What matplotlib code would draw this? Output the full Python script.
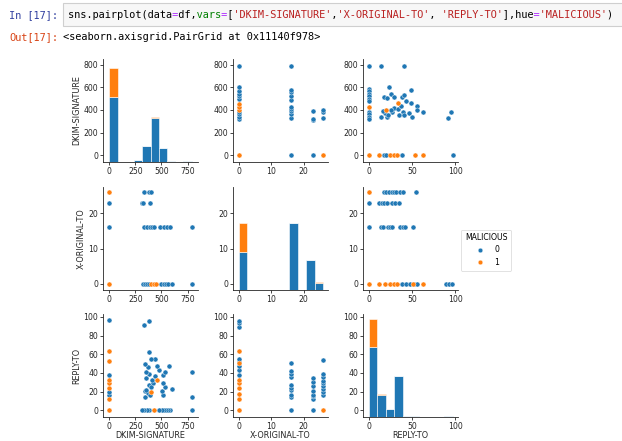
import numpy as np
import matplotlib
matplotlib.use("Agg")
import matplotlib.pyplot as plt
from matplotlib.lines import Line2D
from matplotlib.patches import Rectangle

plt.rcParams["font.family"] = ["DejaVu Sans"]

W, H = 622, 441
BLUE = "#1f77b4"
ORANGE = "#ff7f0e"
INK = "#262626"

VARS = ["DKIM-SIGNATURE", "X-ORIGINAL-TO", "REPLY-TO"]
HUE = "MALICIOUS"
HUE_LEVELS = ["0", "1"]

# value ranges of each column (hist bins span min..max, 10 bins)
dkim_range = (0, 790)
xorig_range = (0, 26)
reply_range = (0, 97)

# diagonal histogram counts (stacked: class 0 then class 1)
dkim_hist_0 = [325, 0, 0, 10, 80, 220, 70, 3, 0, 3]
dkim_hist_1 = [145, 0, 0, 0, 0, 5, 0, 0, 0, 0]
xorig_hist_0 = [190, 0, 0, 0, 0, 0, 335, 0, 150, 35]
xorig_hist_1 = [145, 0, 0, 0, 0, 0, 0, 0, 0, 5]
reply_hist_0 = [350, 111, 40, 203, 5, 3, 0, 0, 0, 3]
reply_hist_1 = [140, 4, 0, 2, 0, 2, 2, 0, 0, 0]

# (X-ORIGINAL-TO, DKIM-SIGNATURE)
xorig_dkim_0 = [(0, 320), (0, 340), (0, 360), (0, 385), (0, 500), (0, 525), (0, 545),
                (0, 567), (0, 605), (0, 790),
                (16, 0), (16, 330), (16, 365), (16, 390), (16, 410), (16, 430), (16, 490),
                (16, 525), (16, 555), (16, 580), (16, 790),
                (23, 0), (23, 310), (23, 320), (23, 390),
                (26, 330), (26, 380), (26, 400)]
xorig_dkim_1 = [(0, 0), (0, 400), (0, 425), (0, 450), (26, 0)]

# (REPLY-TO, DKIM-SIGNATURE)
reply_dkim_0 = [(0, 790), (14, 790), (41, 790),
                (0, 586), (0, 566), (0, 543), (0, 522), (0, 501), (0, 478), (0, 384),
                (0, 361), (0, 337), (0, 317),
                (23, 604), (17, 516), (21, 507), (25, 537), (29, 516), (38, 513), (41, 531),
                (48, 572), (43, 478), (48, 457), (55, 434), (55, 399),
                (14, 340), (21, 340), (27, 384), (29, 419), (33, 410), (37, 434), (39, 384),
                (35, 355), (41, 355), (46, 375), (50, 340), (62, 384), (91, 331), (95, 384),
                (19, 375), (25, 399), (22, 355), (16, 390),
                (17, 0), (20, 0), (38, 0), (97, 0)]
reply_dkim_1 = [(0, 428), (20, 399), (33, 457), (0, 0), (12, 0), (24, 0), (29, 0),
                (32, 0), (53, 0), (63, 0)]

# (X-ORIGINAL-TO, REPLY-TO)
xorig_reply_0 = [(0, 38), (0, 43), (0, 47), (0, 52), (0, 55), (0, 89), (0, 93), (0, 96),
                 (16, 0), (16, 14), (16, 16), (16, 22), (16, 24), (16, 27), (16, 36),
                 (16, 39), (16, 42), (16, 51),
                 (23, 0), (23, 12), (23, 15), (23, 17), (23, 21), (23, 26), (23, 30), (23, 35),
                 (26, 17), (26, 20), (26, 23), (26, 26), (26, 29), (26, 31), (26, 36),
                 (26, 39), (26, 54)]
xorig_reply_1 = [(0, 0), (0, 12), (0, 18), (0, 24), (0, 29), (0, 32), (0, 51), (0, 63),
                 (26, 0)]

dkim_ticks = [0, 250, 500, 750]
dkim_yticks = [0, 200, 400, 600, 800]
xorig_ticks = [0, 10, 20]
reply_ticks = [0, 50, 100]
reply_yticks = [0, 20, 40, 60, 80, 100]

code_line = "sns.pairplot(data=df,vars=['DKIM-SIGNATURE','X-ORIGINAL-TO', 'REPLY-TO'],hue='MALICIOUS')"
out_line = "<seaborn.axisgrid.PairGrid at 0x11140f978>"

LIMS = {0: (-60, 850), 1: (-1.8, 27.5), 2: (-7, 103)}
XT = {0: dkim_ticks, 1: xorig_ticks, 2: reply_ticks}
YT = {0: dkim_yticks, 1: xorig_ticks, 2: reply_yticks}
RANGES = {0: dkim_range, 1: xorig_range, 2: reply_range}
HISTS = {0: (dkim_hist_0, dkim_hist_1), 1: (xorig_hist_0, xorig_hist_1),
         2: (reply_hist_0, reply_hist_1)}
# pairs keyed by (x var, y var) -> (points class 0, points class 1), stored as (x, y)
PAIRS = {(1, 0): (xorig_dkim_0, xorig_dkim_1), (2, 0): (reply_dkim_0, reply_dkim_1),
         (1, 2): (xorig_reply_0, xorig_reply_1)}

FS = 5.6
fig = plt.figure(figsize=(W / 100, H / 100), dpi=100)


def px_axes(x, y, w, h):
    return fig.add_axes([x / W, 1 - (y + h) / H, w / W, h / H])


def style(ax):
    for s in ("top", "right"):
        ax.spines[s].set_visible(False)
    for s in ("left", "bottom"):
        ax.spines[s].set_linewidth(0.6)
        ax.spines[s].set_color(INK)
    ax.tick_params(labelsize=FS, length=2.2, width=0.6, pad=1.2, colors=INK)


col_x = [103, 233, 363]
row_y = [59, 187, 314]
AW, AH = 95, 103
hist_top = max(a + b for c in HISTS.values() for a, b in zip(*c)) * 1.05

for r in range(3):
    for c in range(3):
        ax = px_axes(col_x[c], row_y[r], AW, AH)
        style(ax)
        ax.set_xlim(LIMS[c])
        ax.set_ylim(LIMS[r])
        ax.set_xticks(XT[c])
        ax.set_yticks(YT[r])
        if r == c:
            tw = ax.twinx()
            tw.set_ylim(0, hist_top)
            tw.set_axis_off()
            lo, hi = RANGES[c]
            edges = np.linspace(lo, hi, 11)
            h0, h1 = HISTS[c]
            tw.bar(edges[:-1], h0, width=np.diff(edges), align="edge", color=BLUE,
                   edgecolor="white", linewidth=0.4)
            tw.bar(edges[:-1], h1, width=np.diff(edges), align="edge", bottom=h0,
                   color=ORANGE, edgecolor="white", linewidth=0.4)
        else:
            if (c, r) in PAIRS:
                p0, p1 = PAIRS[(c, r)]
                xi, yi = 0, 1
            else:
                p0, p1 = PAIRS[(r, c)]
                xi, yi = 1, 0
            for pts, col in ((p0, BLUE), (p1, ORANGE)):
                arr = np.array(pts)
                ax.scatter(arr[:, xi], arr[:, yi], s=13, color=col,
                           edgecolor="white", linewidth=0.3, zorder=3)
        if c == 0:
            ax.set_ylabel(VARS[r], fontsize=FS + 0.3, color=INK, labelpad=2)
        if r == 2:
            ax.set_xlabel(VARS[c], fontsize=FS + 0.3, color=INK, labelpad=0.5)

handles = [Line2D([], [], marker="o", ls="", color=col, markersize=3.4,
                  markeredgecolor="white", markeredgewidth=0.3)
           for col in (BLUE, ORANGE)]
leg = fig.legend(handles, HUE_LEVELS, title=HUE, loc="center",
                 bbox_to_anchor=(486 / W, 1 - 250 / H), fontsize=FS, title_fontsize=FS,
                 frameon=True, handletextpad=0.8, borderpad=0.5, labelspacing=0.4)
leg.get_frame().set_linewidth(0.5)
leg.get_frame().set_edgecolor("#cccccc")

# notebook cell header; colored layers of the monospace line overlay exactly
MONO = "DejaVu Sans Mono"
CFS = 7.35
fig.patches.append(Rectangle((63 / W, 1 - 26 / H), (W - 62) / W, 23 / H,
                             transform=fig.transFigure, facecolor="#f7f7f7",
                             edgecolor="#cfcfcf", linewidth=0.8))
fig.text(9 / W, 1 - 15 / H, "In [17]:", family=MONO, fontsize=CFS, color="#303F9F",
         va="center")


def layer(mask):
    return "".join(ch if m else " " for ch, m in zip(code_line, mask))


in_str = np.zeros(len(code_line), bool)
quote = False
for i, ch in enumerate(code_line):
    if ch == "'":
        in_str[i] = True
        quote = not quote
    elif quote:
        in_str[i] = True
is_op = np.array([ch == "=" for ch in code_line])
is_kw = np.zeros(len(code_line), bool)
k = code_line.index("vars")
is_kw[k:k + 4] = True
plain = ~(in_str | is_op | is_kw)
for mask, col in ((plain, "black"), (in_str, "#BA2121"), (is_op, "#AA22FF"),
                  (is_kw, "#008000")):
    fig.text(68 / W, 1 - 15 / H, layer(mask), family=MONO, fontsize=CFS, color=col,
             va="center")
fig.text(9 / W, 1 - 37 / H, "Out[17]:", family=MONO, fontsize=CFS, color="#D84315",
         va="center")
fig.text(63 / W, 1 - 37 / H, out_line, family=MONO, fontsize=CFS, color="black",
         va="center")

fig.savefig("out.png", dpi=100)
